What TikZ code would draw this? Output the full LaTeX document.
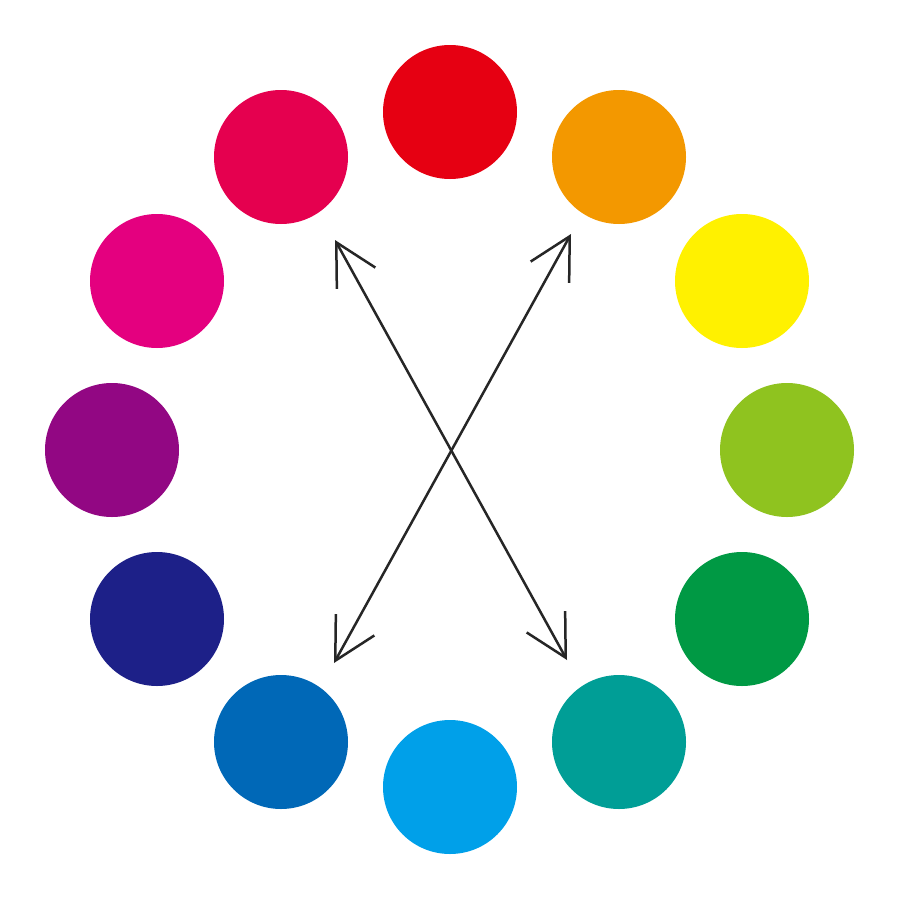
\documentclass[tikz,border=0pt]{standalone}
\usetikzlibrary{arrows.meta}
\definecolor{cRed}{HTML}{E60012}
\definecolor{cOrange}{HTML}{F39800}
\definecolor{cYellow}{HTML}{FFF100}
\definecolor{cYGreen}{HTML}{8FC31F}
\definecolor{cGreen}{HTML}{009944}
\definecolor{cTeal}{HTML}{009E96}
\definecolor{cLBlue}{HTML}{00A0E9}
\definecolor{cBlue}{HTML}{0068B7}
\definecolor{cDBlue}{HTML}{1D2088}
\definecolor{cPurple}{HTML}{920783}
\definecolor{cMagenta}{HTML}{E4007F}
\definecolor{cCrimson}{HTML}{E5004F}
\definecolor{lineC}{HTML}{262626}
\tikzset{
  dotc/.style={circle, minimum size=134pt, inner sep=0pt, draw=none},
  dblarrow/.style={draw=lineC, line width=2.5pt, line cap=round,
    {Straight Barb[length=41pt, width=44pt, line width=2.5pt]}-{Straight Barb[length=41pt, width=44pt, line width=2.5pt]}}
}
\begin{document}
\begin{tikzpicture}[x=1pt, y=-1pt]
\fill[white] (0,0) rectangle (900,900);
\useasboundingbox (0,0) rectangle (900,900);
\node[dotc, fill=cRed]     (c0)  at (450,112) {};
\node[dotc, fill=cOrange]  (c1)  at (619,157) {};
\node[dotc, fill=cYellow]  (c2)  at (742,281) {};
\node[dotc, fill=cYGreen]  (c3)  at (787,450) {};
\node[dotc, fill=cGreen]   (c4)  at (742,619) {};
\node[dotc, fill=cTeal]    (c5)  at (619,742) {};
\node[dotc, fill=cLBlue]   (c6)  at (450,787) {};
\node[dotc, fill=cBlue]    (c7)  at (281,742) {};
\node[dotc, fill=cDBlue]   (c8)  at (157,619) {};
\node[dotc, fill=cPurple]  (c9)  at (112,450) {};
\node[dotc, fill=cMagenta] (c10) at (157,281) {};
\node[dotc, fill=cCrimson] (c11) at (281,157) {};
\coordinate (a1) at (335,240);
\coordinate (a2) at (567,660);
\coordinate (b1) at (571,234);
\coordinate (b2) at (334,663);
\draw[dblarrow] (a1) -- (a2);
\draw[dblarrow] (b1) -- (b2);
\end{tikzpicture}
\end{document}
